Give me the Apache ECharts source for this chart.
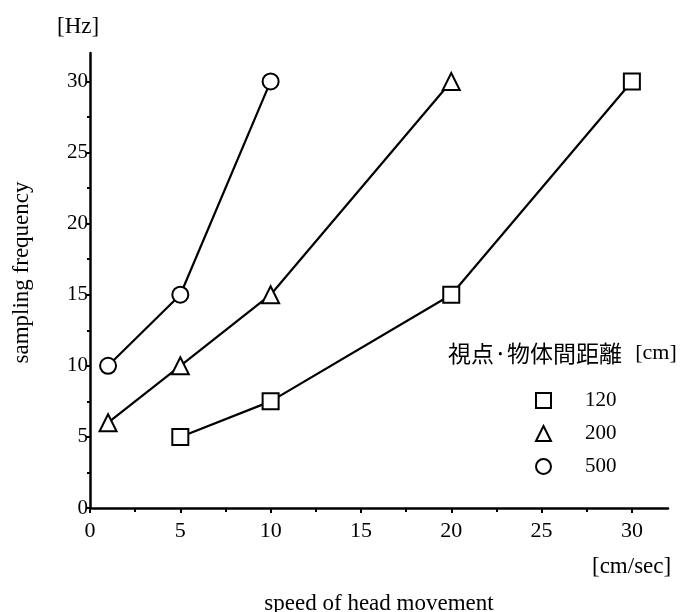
<!DOCTYPE html>
<html>
<head>
<meta charset="utf-8">
<script src="https://cdn.jsdelivr.net/npm/echarts@6/dist/echarts.min.js"></script>
<style>
  html, body { margin: 0; padding: 0; background: #fff; }
  #main { width: 697px; height: 612px; }
</style>
</head>
<body>
<div id="main"></div>
<script>
// speed of head movement [cm/sec] vs sampling frequency [Hz]
var speed120 = [5, 10, 20, 30];
var freq120  = [5, 7.5, 15, 30];
var speed200 = [1, 5, 10, 20];
var freq200  = [6, 10, 15, 30];
var speed500 = [1, 5, 10];
var freq500  = [10, 15, 30];
var seriesNames = ['120', '200', '500'];
var tickValues = [0, 5, 10, 15, 20, 25, 30];

function pairs(xs, ys) {
  return xs.map(function (x, i) { return [x, ys[i]]; });
}

var serif = 'Liberation Serif';
var myChart = echarts.init(document.getElementById('main'));

var markerStyle = { color: '#fff', borderColor: '#000', borderWidth: 2 };

var option = {
  backgroundColor: '#fff',
  animation: false,
  grid: { left: 90, right: 29, top: 53, bottom: 104, containLabel: false, outerBoundsMode: 'none' },
  xAxis: {
    type: 'value',
    min: 0, max: 32, interval: 5,
    name: 'speed of head movement',
    nameLocation: 'middle',
    nameGap: 84,
    nameTextStyle: { fontFamily: serif, fontSize: 23, color: '#000' },
    axisLine: { lineStyle: { color: '#000', width: 2.5 } },
    axisTick: { show: true, inside: false, length: 5, lineStyle: { color: '#000', width: 2 },
                customValues: tickValues },
    minorTick: { show: true, splitNumber: 2, length: 4, lineStyle: { color: '#000', width: 2 } },
    axisLabel: { fontFamily: serif, fontSize: 22, color: '#000', margin: 12,
                 customValues: tickValues },
    splitLine: { show: false }
  },
  yAxis: {
    type: 'value',
    min: 0, max: 32, interval: 5,
    name: 'sampling frequency',
    nameLocation: 'middle',
    nameGap: 57,
    nameTextStyle: { fontFamily: serif, fontSize: 23, color: '#000', padding: [0, 0, 0, 16] },
    axisLine: { lineStyle: { color: '#000', width: 2.5 } },
    axisTick: { show: true, inside: false, length: 4, lineStyle: { color: '#000', width: 2 },
                customValues: tickValues },
    minorTick: { show: true, splitNumber: 2, length: 3, lineStyle: { color: '#000', width: 2 } },
    axisLabel: { fontFamily: serif, fontSize: 21, color: '#000', margin: 2,
                 customValues: tickValues },
    splitLine: { show: false }
  },
  legend: {
    orient: 'vertical',
    left: 530, top: 385,
    itemWidth: 15, itemHeight: 15,
    itemGap: 12,
    textStyle: { fontFamily: serif, fontSize: 21, lineHeight: 20, color: '#000', padding: [0, 0, 0, 29] },
    itemStyle: markerStyle,
    data: [
      { name: seriesNames[0], icon: 'rect' },
      { name: seriesNames[1], icon: 'triangle' },
      { name: seriesNames[2], icon: 'circle' }
    ]
  },
  graphic: [
    { type: 'text', left: 57, top: 15,
      style: { text: '[Hz]', font: '23px "Liberation Serif"', fill: '#000' } },
    { type: 'text', left: 592, top: 555,
      style: { text: '[cm/sec]', font: '23px "Liberation Serif"', fill: '#000' } },
    { type: 'text', left: 448, top: 342,
      style: { text: '{a|視点·物体間距離}    {b|[cm]}',
               rich: {
                 a: { fontFamily: 'Noto Sans CJK JP', fontSize: 23, color: '#000' },
                 b: { fontFamily: serif, fontSize: 22, color: '#000' }
               } } }
  ],
  series: [
    {
      name: seriesNames[0], type: 'line',
      data: pairs(speed120, freq120),
      symbol: 'rect', symbolSize: 16,
      lineStyle: { color: '#000', width: 2.2 },
      itemStyle: markerStyle
    },
    {
      name: seriesNames[1], type: 'line',
      data: pairs(speed200, freq200),
      symbol: 'triangle', symbolSize: 17,
      lineStyle: { color: '#000', width: 2.2 },
      itemStyle: markerStyle
    },
    {
      name: seriesNames[2], type: 'line',
      data: pairs(speed500, freq500),
      symbol: 'circle', symbolSize: 16,
      lineStyle: { color: '#000', width: 2.2 },
      itemStyle: markerStyle
    }
  ]
};

myChart.setOption(option);
</script>
</body>
</html>
